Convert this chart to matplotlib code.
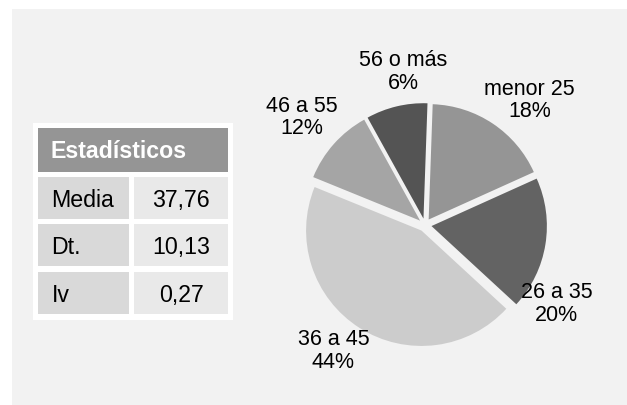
#!/usr/bin/env python3
"""Age groups pie with a small stats table on the left."""
import matplotlib
matplotlib.use("Agg")
import matplotlib.pyplot as plt
import numpy as np
from matplotlib.patches import Rectangle

plt.rcParams["font.family"] = ["Liberation Sans", "DejaVu Sans"]

# data
groups = ["menor 25", "26 a 35", "36 a 45", "46 a 55", "56 o más"]
# wedge sizes as drawn in the picture
wedge_shares = [17.7, 18.6, 44.3, 10.8, 8.6]
# percentages as printed on the labels
label_pct = [18, 20, 44, 12, 6]
colors = ["#959595", "#636363", "#cccccc", "#a5a5a5", "#545454"]

stat_names = ["Media", "Dt.", "Iv"]
stat_values = [37.76, 10.13, 0.27]

# label placement (angle in degrees, distance in radii)
label_pos = [(50, 1.41), (-31, 1.33), (-126, 1.35), (139, 1.42), (98, 1.34)]

W, H = 627, 405
fig = plt.figure(figsize=(W / 100, H / 100), dpi=100)
fig.patch.set_facecolor("white")

# background axes in pixel coords
bg = fig.add_axes([0, 0, 1, 1])
bg.set_xlim(0, W)
bg.set_ylim(H, 0)
bg.axis("off")
bg.add_patch(Rectangle((12, 9), W - 12, H - 9, facecolor="#f2f2f2", edgecolor="none"))

# stats table
TFS = 16.7
bg.add_patch(Rectangle((33, 123), 200, 197, facecolor="white", edgecolor="none"))
bg.add_patch(Rectangle((38, 128), 190, 44, facecolor="#959595", edgecolor="none"))
bg.text(51, 158, "Estadísticos", color="white", fontsize=TFS, fontweight="bold",
        va="baseline", ha="left")
row_top = [177, 224, 272]
for top, name, val in zip(row_top, stat_names, stat_values):
    bg.add_patch(Rectangle((38, top), 91, 42, facecolor="#d9d9d9", edgecolor="none"))
    bg.add_patch(Rectangle((134, top), 94, 42, facecolor="#e9e9e9", edgecolor="none"))
    bg.text(51.5, top + 29.7, name, fontsize=TFS, va="baseline", ha="left")
    bg.text(181, top + 29.7, f"{val:.2f}".replace(".", ","), fontsize=TFS,
            va="baseline", ha="center")

# pie
cx, cy, half = 425, 225, 150
ax = fig.add_axes([(cx - half) / W, (H - cy - half) / H, 2 * half / W, 2 * half / H])
ax.pie(wedge_shares, colors=colors, startangle=88, counterclock=False,
       explode=[0.057] * len(wedge_shares), radius=1.0,
       wedgeprops={"linewidth": 0})
ax.set_xlim(-1.3, 1.3)
ax.set_ylim(-1.3, 1.3)
ax.set_aspect("equal")
ax.axis("off")

for name, pct, (ang, dist) in zip(groups, label_pct, label_pos):
    a = np.deg2rad(ang)
    ax.text(dist * np.cos(a), dist * np.sin(a), f"{name}\n{pct}%",
            fontsize=15.5, ha="center", va="center", linespacing=1.1,
            clip_on=False)

fig.savefig("out.png", dpi=100)
